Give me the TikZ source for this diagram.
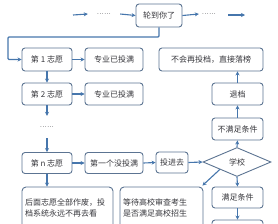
\documentclass[tikz,border=0pt]{standalone}
\usepackage{fontspec}
\newfontfamily\cjk{Noto Sans CJK SC}
\usetikzlibrary{shapes.geometric, arrows.meta, positioning}
\definecolor{boxline}{RGB}{92,116,146}
\definecolor{flowarrow}{RGB}{70,118,172}
\definecolor{txtgray}{RGB}{55,55,60}
\tikzset{
  flowbox/.style={rectangle, rounded corners=3pt, draw=boxline, line width=0.9pt,
                  fill=white, minimum width=#1, minimum height=22pt, inner sep=0pt,
                  font=\cjk\fontsize{8}{11}\selectfont, text=txtgray, align=center},
  notebox/.style={rectangle, rounded corners=4pt, draw=boxline, line width=0.9pt,
                  fill=white, minimum width=#1, minimum height=41pt, inner xsep=3pt,
                  font=\cjk\fontsize{8}{11}\selectfont, text=txtgray, align=left},
  choicebox/.style={diamond, draw=boxline, line width=0.9pt, fill=white,
                    minimum width=68pt, minimum height=29pt, inner sep=0pt,
                    font=\cjk\fontsize{8}{11}\selectfont, text=txtgray},
  dotsnode/.style={inner sep=0pt, minimum width=#1, font=\fontsize{8}{10}\selectfont,
                   text=txtgray},
  arrowstyle/.style={-{Stealth[length=4pt,width=4pt]}, line width=1.1pt, color=flowarrow},
}
\begin{document}
\begin{tikzpicture}[x=1pt, y=-1pt]
  \clip (0,0) rectangle (278,223);
  % top row
  \coordinate (a0) at (73,15);
  \node[dotsnode=32pt] (d1) at (104,14) {......};
  \node[flowbox=46pt, minimum height=23pt] (lun) at (159,15.5) {轮到你了};
  \node[dotsnode=20pt] (d2) at (209,14) {......};
  \coordinate (a4) at (228,15);
  \coordinate (a5) at (245,15);
  \coordinate (loopL) at (8,37);
  % left column
  \node[flowbox=50pt, minimum height=23pt] (z1) at (47,59.5) {第 1 志愿};
  \node[flowbox=58pt, minimum height=23pt] (man1) at (114,59.5) {专业已投满};
  \node[flowbox=50pt] (z2) at (47,94) {第 2 志愿};
  \node[flowbox=58pt] (man2) at (114,94) {专业已投满};
  \node[dotsnode=10pt, minimum height=22pt] (d3) at (47,127) {......};
  \node[flowbox=50pt, minimum height=21pt] (zn) at (47,163) {第 n 志愿};
  \node[flowbox=58pt, minimum height=21pt] (diyige) at (114,163) {第一个没投满};
  \node[flowbox=32pt, minimum height=21pt] (toujin) at (172,162.5) {投进去};
  \node[notebox=91pt, text width=85pt] (houmian) at (67.5,207.5)
    {后面志愿全部作废，投\\档系统永远不再去看};
  \node[notebox=83pt, text width=77pt] (dengdai) at (161.5,207.5)
    {等待高校审查考生\\是否满足高校招生};
  % right column
  \node[flowbox=104pt, minimum height=23pt] (luobang) at (211,59.5) {不会再投档，直接落榜};
  \node[flowbox=51pt] (tuidang) at (237.5,94) {退档};
  \node[flowbox=51pt] (buman) at (237.5,129) {不满足条件};
  \node[choicebox] (school) at (237,162) {学校};
  \node[flowbox=51pt, minimum height=21pt] (manzu) at (237.5,197.5) {满足条件};
  \node[flowbox=51pt] (next) at (237.5,231) {};
  % connectors
  \draw[arrowstyle] (a0) -- (d1.west);
  \draw[arrowstyle] (d1.east) -- (lun.west);
  \draw[arrowstyle] (lun.east) -- (d2.west);
  \draw[arrowstyle] (a4) -- (a5);
  \draw[arrowstyle, rounded corners=1pt] (lun.south) |- (loopL) |- (z1.west);
  \draw[arrowstyle] (z1.east) -- (man1.west);
  \draw[arrowstyle] (z1.south) -- (z2.north);
  \draw[arrowstyle] (z2.east) -- (man2.west);
  \draw[arrowstyle] (z2.south) -- (d3.north);
  \draw[arrowstyle] (d3.south) -- (zn.north);
  \draw[arrowstyle] (zn.east) -- (diyige.west);
  \draw[arrowstyle] (diyige.east) -- (toujin.west);
  \draw[arrowstyle] (toujin.east) -- (school.west);
  \draw[arrowstyle] (zn.south) -- (houmian.north -| zn.south);
  \draw[arrowstyle] (school.north) -- (buman.south);
  \draw[arrowstyle] (buman.north) -- (tuidang.south);
  \draw[arrowstyle] (tuidang.north) -- (luobang.south -| tuidang.north);
  \draw[arrowstyle] (school.south) -- (manzu.north);
  \draw[arrowstyle] (manzu.south) -- (next.north);
  \draw[arrowstyle] (school.south west) -- ([xshift=-1pt,yshift=1pt]dengdai.north east);
\end{tikzpicture}
\end{document}
